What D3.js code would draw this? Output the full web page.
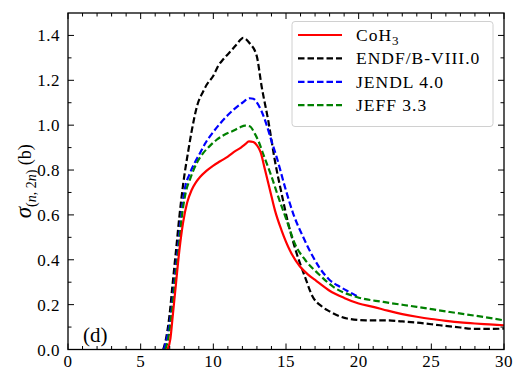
<!DOCTYPE html>
<html>
<head>
<meta charset="utf-8">
<script src="https://cdn.jsdelivr.net/npm/d3@7/dist/d3.min.js"></script>
<style>
  html, body { margin: 0; padding: 0; background: #fff; }
  svg { display: block; }
  text { font-family: "Liberation Serif", "Times New Roman", serif; fill: #000; }
</style>
</head>
<body>
<svg id="chart" width="515" height="371"></svg>
<script>
// Neutron energy (MeV) and (n,2n) cross sections (barn) for each evaluation
const cohE   = [6.85, 7.05, 7.2, 7.43, 7.66, 7.93, 8.2, 8.5, 8.8, 9.1, 9.5, 10.0, 10.5, 11.0, 11.4, 11.9, 12.2, 12.45, 12.75, 13.0, 13.25, 13.56, 13.9, 14.24, 14.7, 15.28, 15.96, 16.5, 17.1, 18.0, 19.0, 20.0, 21.0, 22.0, 23.0, 24.0, 25.0, 26.0, 27.0, 28.0, 29.0, 30.0];
const cohXS  = [0, 0.05, 0.145, 0.294, 0.44, 0.57, 0.655, 0.71, 0.745, 0.77, 0.795, 0.82, 0.84, 0.86, 0.88, 0.90, 0.915, 0.928, 0.925, 0.91, 0.88, 0.80, 0.71, 0.62, 0.53, 0.44, 0.37, 0.335, 0.305, 0.262, 0.23, 0.205, 0.19, 0.173, 0.158, 0.146, 0.136, 0.128, 0.121, 0.116, 0.112, 0.108];

const endfE  = [6.55, 6.75, 6.97, 7.2, 7.43, 7.66, 7.93, 8.28, 8.5, 8.9, 9.3, 9.54, 10.0, 10.34, 10.7, 11.2, 11.6, 12.06, 12.5, 12.98, 13.33, 13.78, 14.24, 14.7, 15.16, 15.74, 16.31, 16.8, 17.5, 18.0, 19.2, 20.5, 22.0, 23.0, 24.0, 25.6, 27.0, 27.9, 29.0, 30.0];
const endfXS = [0, 0.05, 0.145, 0.294, 0.44, 0.59, 0.74, 0.887, 0.97, 1.09, 1.15, 1.18, 1.22, 1.265, 1.295, 1.33, 1.36, 1.389, 1.365, 1.31, 1.17, 1.02, 0.84, 0.694, 0.56, 0.427, 0.323, 0.24, 0.19, 0.17, 0.138, 0.13, 0.13, 0.125, 0.12, 0.108, 0.098, 0.092, 0.092, 0.093];

const jendlE  = [6.6, 6.8, 7.06, 7.31, 7.55, 7.78, 8.05, 8.35, 8.7, 9.08, 9.5, 10.0, 10.5, 11.0, 11.5, 12.0, 12.5, 12.75, 13.0, 13.3, 13.67, 14.0, 14.36, 14.93, 15.5, 16.19, 16.8, 17.3, 18.0, 18.7, 19.4, 20.0];
const jendlXS = [0, 0.05, 0.145, 0.294, 0.44, 0.59, 0.72, 0.78, 0.83, 0.875, 0.925, 0.97, 1.01, 1.045, 1.075, 1.10, 1.12, 1.118, 1.10, 1.065, 1.0, 0.93, 0.857, 0.724, 0.605, 0.50, 0.42, 0.365, 0.31, 0.28, 0.255, 0.234];

const jeffE  = [6.7, 6.9, 7.1, 7.35, 7.6, 7.83, 8.1, 8.4, 8.85, 9.3, 9.8, 10.23, 10.7, 11.37, 11.83, 12.18, 12.5, 12.87, 13.1, 13.44, 14.01, 14.47, 15.05, 15.62, 16.31, 17.22, 18.26, 19.86, 21.7, 24.0, 26.28, 28.58, 30.0];
const jeffXS = [0, 0.05, 0.145, 0.294, 0.44, 0.59, 0.70, 0.76, 0.83, 0.875, 0.91, 0.935, 0.955, 0.975, 0.99, 0.998, 0.995, 0.96, 0.93, 0.87, 0.77, 0.68, 0.575, 0.47, 0.40, 0.338, 0.279, 0.234, 0.212, 0.19, 0.167, 0.145, 0.13];

const seriesNames  = ["CoH3", "ENDF/B-VIII.0", "JENDL 4.0", "JEFF 3.3"];
const seriesColors = ["#ff0000", "#000000", "#0000ff", "#008000"];
const seriesDashed = [false, true, true, true];

const xTicks = [0, 5, 10, 15, 20, 25, 30];
const yTicks = [0.0, 0.2, 0.4, 0.6, 0.8, 1.0, 1.2, 1.4];
const panelLabel = "(d)";

const svg = d3.select("#chart");
const plotLeft = 68, plotRight = 504, plotTop = 13, plotBottom = 349.5;
const tickFont = 17;

const x = d3.scaleLinear().domain([0, 30]).range([plotLeft, plotRight]);
const y = d3.scaleLinear().domain([0, 1.5]).range([plotBottom, plotTop]);

svg.append("defs").append("clipPath").attr("id", "plotclip")
  .append("rect").attr("x", plotLeft).attr("y", plotTop)
  .attr("width", plotRight - plotLeft).attr("height", plotBottom - plotTop);

const seriesData = [
  d3.zip(cohE, cohXS),
  d3.zip(endfE, endfXS),
  d3.zip(jendlE, jendlXS),
  d3.zip(jeffE, jeffXS)
];

const line = d3.line()
  .x(d => x(d[0]))
  .y(d => y(d[1]))
  .curve(d3.curveMonotoneX);

const plot = svg.append("g").attr("clip-path", "url(#plotclip)");
// dashed evaluations first, then the red model curve on top of them
[1, 2, 3, 0].forEach(i => {
  plot.append("path")
    .datum(seriesData[i])
    .attr("d", line)
    .attr("fill", "none")
    .attr("stroke", seriesColors[i])
    .attr("stroke-width", 2.2)
    .attr("stroke-dasharray", seriesDashed[i] ? "6.5,3" : null);
});

// Axes: inward ticks on all four sides
const majorLen = 6, minorLen = 3.5;
const xMinor = d3.range(0, 31, 1).filter(v => v % 5 !== 0);
const yMinor = d3.range(1, 15, 2).map(v => v / 10);

function xAxisOn(yPos, dir, labels) {
  const g = svg.append("g");
  xTicks.forEach(v => g.append("line").attr("x1", x(v)).attr("x2", x(v))
    .attr("y1", yPos).attr("y2", yPos + dir * majorLen).attr("stroke", "#000").attr("stroke-width", 1));
  xMinor.forEach(v => g.append("line").attr("x1", x(v)).attr("x2", x(v))
    .attr("y1", yPos).attr("y2", yPos + dir * minorLen).attr("stroke", "#000").attr("stroke-width", 1));
  if (labels) {
    xTicks.forEach(v => g.append("text").attr("x", x(v)).attr("y", 367)
      .attr("text-anchor", "middle").attr("font-size", tickFont)
      .attr("letter-spacing", 0.5).text(d3.format("d")(v)));
  }
}
function yAxisOn(xPos, dir, labels) {
  const g = svg.append("g");
  yTicks.forEach(v => g.append("line").attr("y1", y(v)).attr("y2", y(v))
    .attr("x1", xPos).attr("x2", xPos + dir * majorLen).attr("stroke", "#000").attr("stroke-width", 1));
  yMinor.forEach(v => g.append("line").attr("y1", y(v)).attr("y2", y(v))
    .attr("x1", xPos).attr("x2", xPos + dir * minorLen).attr("stroke", "#000").attr("stroke-width", 1));
  if (labels) {
    yTicks.forEach(v => g.append("text").attr("x", 60).attr("y", y(v) + 6)
      .attr("text-anchor", "end").attr("font-size", tickFont)
      .attr("letter-spacing", 0.5).text(d3.format(".1f")(v)));
  }
}
xAxisOn(plotBottom, -1, true);
xAxisOn(plotTop, 1, false);
yAxisOn(plotLeft, 1, true);
yAxisOn(plotRight, -1, false);

svg.append("rect").attr("x", plotLeft).attr("y", plotTop)
  .attr("width", plotRight - plotLeft).attr("height", plotBottom - plotTop)
  .attr("fill", "none").attr("stroke", "#000").attr("stroke-width", 1.3);

// y-axis title: sigma with (n, 2n) subscript, rotated
const yt = svg.append("text")
  .attr("transform", "translate(31," + ((plotTop + plotBottom) / 2) + ") rotate(-90)")
  .attr("text-anchor", "middle")
  .attr("font-size", 18);
yt.append("tspan").attr("font-style", "italic").attr("font-size", 23).text("σ");
const sub = yt.append("tspan").attr("font-size", 14).attr("dy", 4.5);
sub.append("tspan").text("(");
sub.append("tspan").attr("font-style", "italic").text("n");
sub.append("tspan").text(", 2");
sub.append("tspan").attr("font-style", "italic").text("n");
sub.append("tspan").text(")");
yt.append("tspan").attr("dy", -4.5).attr("font-size", 18).text(" (b)");

// panel label
svg.append("text").attr("x", 83).attr("y", 342).attr("font-size", 21).text(panelLabel);

// legend
const lg = svg.append("g");
lg.append("rect").attr("x", 292).attr("y", 21.5).attr("width", 201).attr("height", 105)
  .attr("rx", 3).attr("fill", "#fff").attr("fill-opacity", 0.85)
  .attr("stroke", "#d0d0d0").attr("stroke-width", 1);
seriesNames.forEach((name, i) => {
  const cy = 35 + i * 23.4;
  lg.append("line").attr("x1", 298).attr("x2", 342).attr("y1", cy).attr("y2", cy)
    .attr("stroke", seriesColors[i]).attr("stroke-width", 2.2)
    .attr("stroke-dasharray", seriesDashed[i] ? "6.5,3" : null);
  const t = lg.append("text").attr("x", 356).attr("y", cy + 6)
    .attr("font-size", 17.5).attr("letter-spacing", 1);
  if (name === "CoH3") {
    t.append("tspan").text("CoH");
    t.append("tspan").attr("font-size", 13).attr("dy", 4).text("3");
  } else {
    t.text(name);
  }
});
</script>
</body>
</html>
